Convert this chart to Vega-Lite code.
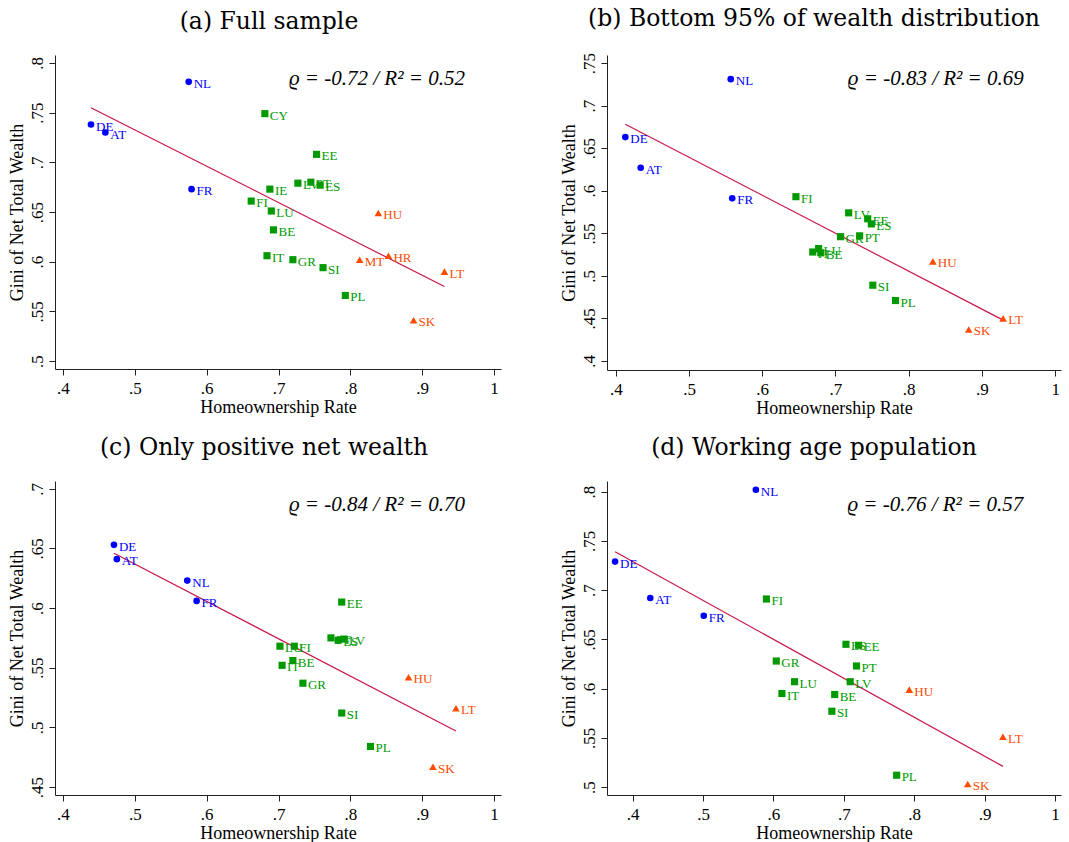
{
  "$schema": "https://vega.github.io/schema/vega-lite/v6.json",
  "background": "white",
  "padding": {"left": 7, "top": 6, "right": 5, "bottom": 5},
  "bounds": "flush",
  "columns": 2,
  "spacing": {"row": 111, "column": 106},
  "config": {
    "view": {"stroke": null},
    "font": "Liberation Serif",
    "axis": {"grid": false, "domainColor": "#222", "tickColor": "#222", "tickSize": 6, "labelFont": "Liberation Serif", "labelFontSize": 17, "labelColor": "#000", "titleFont": "Liberation Serif", "titleFontSize": 18, "titleFontWeight": "normal", "titleColor": "#000"},
    "axisY": {"labelAngle": -90, "labelAlign": "center", "labelBaseline": "alphabetic", "labelPadding": 7, "titlePadding": 2},
    "axisX": {"labelPadding": 5, "titlePadding": 2},
    "title": {"font": "DejaVu Serif", "fontSize": 23.5, "fontWeight": "normal", "color": "#000", "baseline": "alphabetic", "offset": 22},
    "text": {"font": "Liberation Serif"}
  },
  "datasets": {
    "pts": [
      {"panel": "a", "country": "NL", "hor": 0.575, "gini": 0.781, "group": "W"},
      {"panel": "a", "country": "DE", "hor": 0.439, "gini": 0.738, "group": "W"},
      {"panel": "a", "country": "AT", "hor": 0.459, "gini": 0.730, "group": "W"},
      {"panel": "a", "country": "FR", "hor": 0.579, "gini": 0.673, "group": "W"},
      {"panel": "a", "country": "CY", "hor": 0.681, "gini": 0.749, "group": "G"},
      {"panel": "a", "country": "EE", "hor": 0.753, "gini": 0.708, "group": "G"},
      {"panel": "a", "country": "LV", "hor": 0.727, "gini": 0.679, "group": "G"},
      {"panel": "a", "country": "PT", "hor": 0.745, "gini": 0.680, "group": "G"},
      {"panel": "a", "country": "ES", "hor": 0.758, "gini": 0.677, "group": "G"},
      {"panel": "a", "country": "IE", "hor": 0.688, "gini": 0.673, "group": "G"},
      {"panel": "a", "country": "FI", "hor": 0.662, "gini": 0.661, "group": "G"},
      {"panel": "a", "country": "LU", "hor": 0.690, "gini": 0.651, "group": "G"},
      {"panel": "a", "country": "BE", "hor": 0.693, "gini": 0.632, "group": "G"},
      {"panel": "a", "country": "IT", "hor": 0.684, "gini": 0.606, "group": "G"},
      {"panel": "a", "country": "GR", "hor": 0.720, "gini": 0.602, "group": "G"},
      {"panel": "a", "country": "SI", "hor": 0.762, "gini": 0.594, "group": "G"},
      {"panel": "a", "country": "PL", "hor": 0.793, "gini": 0.566, "group": "G"},
      {"panel": "a", "country": "HU", "hor": 0.839, "gini": 0.649, "group": "E"},
      {"panel": "a", "country": "MT", "hor": 0.813, "gini": 0.602, "group": "E"},
      {"panel": "a", "country": "HR", "hor": 0.853, "gini": 0.606, "group": "E"},
      {"panel": "a", "country": "LT", "hor": 0.931, "gini": 0.590, "group": "E"},
      {"panel": "a", "country": "SK", "hor": 0.888, "gini": 0.541, "group": "E"},

      {"panel": "b", "country": "NL", "hor": 0.557, "gini": 0.731, "group": "W"},
      {"panel": "b", "country": "DE", "hor": 0.413, "gini": 0.663, "group": "W"},
      {"panel": "b", "country": "AT", "hor": 0.434, "gini": 0.627, "group": "W"},
      {"panel": "b", "country": "FR", "hor": 0.559, "gini": 0.591, "group": "W"},
      {"panel": "b", "country": "FI", "hor": 0.646, "gini": 0.593, "group": "G"},
      {"panel": "b", "country": "LV", "hor": 0.718, "gini": 0.574, "group": "G"},
      {"panel": "b", "country": "EE", "hor": 0.744, "gini": 0.567, "group": "G"},
      {"panel": "b", "country": "ES", "hor": 0.749, "gini": 0.561, "group": "G"},
      {"panel": "b", "country": "PT", "hor": 0.733, "gini": 0.547, "group": "G"},
      {"panel": "b", "country": "GR", "hor": 0.707, "gini": 0.546, "group": "G"},
      {"panel": "b", "country": "IT", "hor": 0.669, "gini": 0.528, "group": "G"},
      {"panel": "b", "country": "LU", "hor": 0.677, "gini": 0.532, "group": "G"},
      {"panel": "b", "country": "BE", "hor": 0.680, "gini": 0.527, "group": "G"},
      {"panel": "b", "country": "SI", "hor": 0.751, "gini": 0.489, "group": "G"},
      {"panel": "b", "country": "PL", "hor": 0.782, "gini": 0.471, "group": "G"},
      {"panel": "b", "country": "HU", "hor": 0.833, "gini": 0.517, "group": "E"},
      {"panel": "b", "country": "LT", "hor": 0.929, "gini": 0.450, "group": "E"},
      {"panel": "b", "country": "SK", "hor": 0.882, "gini": 0.437, "group": "E"},

      {"panel": "c", "country": "DE", "hor": 0.471, "gini": 0.653, "group": "W"},
      {"panel": "c", "country": "AT", "hor": 0.475, "gini": 0.641, "group": "W"},
      {"panel": "c", "country": "NL", "hor": 0.573, "gini": 0.623, "group": "W"},
      {"panel": "c", "country": "FR", "hor": 0.586, "gini": 0.606, "group": "W"},
      {"panel": "c", "country": "EE", "hor": 0.788, "gini": 0.605, "group": "G"},
      {"panel": "c", "country": "PT", "hor": 0.773, "gini": 0.575, "group": "G"},
      {"panel": "c", "country": "ES", "hor": 0.783, "gini": 0.573, "group": "G"},
      {"panel": "c", "country": "LV", "hor": 0.791, "gini": 0.574, "group": "G"},
      {"panel": "c", "country": "LU", "hor": 0.702, "gini": 0.568, "group": "G"},
      {"panel": "c", "country": "FI", "hor": 0.722, "gini": 0.568, "group": "G"},
      {"panel": "c", "country": "BE", "hor": 0.720, "gini": 0.556, "group": "G"},
      {"panel": "c", "country": "IT", "hor": 0.705, "gini": 0.552, "group": "G"},
      {"panel": "c", "country": "GR", "hor": 0.734, "gini": 0.537, "group": "G"},
      {"panel": "c", "country": "SI", "hor": 0.788, "gini": 0.512, "group": "G"},
      {"panel": "c", "country": "PL", "hor": 0.828, "gini": 0.484, "group": "G"},
      {"panel": "c", "country": "HU", "hor": 0.881, "gini": 0.542, "group": "E"},
      {"panel": "c", "country": "LT", "hor": 0.947, "gini": 0.516, "group": "E"},
      {"panel": "c", "country": "SK", "hor": 0.915, "gini": 0.467, "group": "E"},

      {"panel": "d", "country": "NL", "hor": 0.575, "gini": 0.802, "group": "W"},
      {"panel": "d", "country": "DE", "hor": 0.375, "gini": 0.729, "group": "W"},
      {"panel": "d", "country": "AT", "hor": 0.425, "gini": 0.692, "group": "W"},
      {"panel": "d", "country": "FR", "hor": 0.501, "gini": 0.674, "group": "W"},
      {"panel": "d", "country": "FI", "hor": 0.590, "gini": 0.691, "group": "G"},
      {"panel": "d", "country": "ES", "hor": 0.703, "gini": 0.645, "group": "G"},
      {"panel": "d", "country": "EE", "hor": 0.721, "gini": 0.644, "group": "G"},
      {"panel": "d", "country": "PT", "hor": 0.718, "gini": 0.623, "group": "G"},
      {"panel": "d", "country": "GR", "hor": 0.604, "gini": 0.628, "group": "G"},
      {"panel": "d", "country": "LU", "hor": 0.630, "gini": 0.607, "group": "G"},
      {"panel": "d", "country": "LV", "hor": 0.709, "gini": 0.607, "group": "G"},
      {"panel": "d", "country": "IT", "hor": 0.612, "gini": 0.595, "group": "G"},
      {"panel": "d", "country": "BE", "hor": 0.687, "gini": 0.594, "group": "G"},
      {"panel": "d", "country": "SI", "hor": 0.683, "gini": 0.577, "group": "G"},
      {"panel": "d", "country": "PL", "hor": 0.775, "gini": 0.512, "group": "G"},
      {"panel": "d", "country": "HU", "hor": 0.793, "gini": 0.599, "group": "E"},
      {"panel": "d", "country": "LT", "hor": 0.926, "gini": 0.551, "group": "E"},
      {"panel": "d", "country": "SK", "hor": 0.876, "gini": 0.503, "group": "E"}
    ],
    "fit": [
      {"panel": "a", "hor": 0.439, "gini": 0.755},
      {"panel": "a", "hor": 0.931, "gini": 0.575},
      {"panel": "b", "hor": 0.413, "gini": 0.678},
      {"panel": "b", "hor": 0.929, "gini": 0.448},
      {"panel": "c", "hor": 0.471, "gini": 0.646},
      {"panel": "c", "hor": 0.947, "gini": 0.497},
      {"panel": "d", "hor": 0.375, "gini": 0.739},
      {"panel": "d", "hor": 0.926, "gini": 0.521}
    ]
  },
  "concat": [
    {
      "title": {"text": "(a) Full sample", "dx": -9},
      "width": 446, "height": 314,
      "layer": [
        {"data": {"name": "fit"}, "transform": [{"filter": "datum.panel == 'a'"}], "mark": {"type": "line", "color": "#c8174a", "strokeWidth": 1.2},
         "encoding": {
           "x": {"field": "hor", "type": "quantitative", "title": "Homeownership Rate", "scale": {"domain": [0.3889, 1.0097], "nice": false, "zero": false},
                 "axis": {"values": [0.4, 0.5, 0.6, 0.7, 0.8, 0.9, 1], "labelExpr": "replace(format(datum.value, '.2~f'), '0.', '.')"}},
           "y": {"field": "gini", "type": "quantitative", "title": "Gini of Net Total Wealth", "scale": {"domain": [0.492, 0.808], "nice": false, "zero": false},
                 "axis": {"values": [0.5, 0.55, 0.6, 0.65, 0.7, 0.75, 0.8], "labelExpr": "replace(format(datum.value, '.2~f'), '0.', '.')"}}
         }},
        {"data": {"name": "pts"}, "transform": [{"filter": "datum.panel == 'a'"}], "mark": {"type": "point", "filled": true, "opacity": 1},
         "encoding": {
           "x": {"field": "hor", "type": "quantitative", "title": "Homeownership Rate"},
           "y": {"field": "gini", "type": "quantitative", "title": "Gini of Net Total Wealth"},
           "shape": {"field": "group", "type": "nominal", "scale": {"domain": ["W", "G", "E"], "range": ["circle", "square", "triangle-up"]}, "legend": null},
           "color": {"field": "group", "type": "nominal", "scale": {"domain": ["W", "G", "E"], "range": ["#0000ff", "#009a00", "#ff4a00"]}, "legend": null},
           "size": {"field": "group", "type": "nominal", "scale": {"domain": ["W", "G", "E"], "range": [44, 58, 78]}, "legend": null}
         }},
        {"data": {"name": "pts"}, "transform": [{"filter": "datum.panel == 'a'"}], "mark": {"type": "text", "align": "left", "baseline": "middle", "dx": 5, "dy": 2, "fontSize": 13, "font": "Liberation Serif"},
         "encoding": {
           "x": {"field": "hor", "type": "quantitative", "title": "Homeownership Rate"},
           "y": {"field": "gini", "type": "quantitative", "title": "Gini of Net Total Wealth"},
           "text": {"field": "country"}, "color": {"field": "group", "type": "nominal", "legend": null}}},
        {"data": {"values": [{"note": "ϱ = -0.72 / R² = 0.52"}]}, "mark": {"type": "text", "font": "Liberation Serif", "fontStyle": "italic", "fontSize": 21, "align": "center", "baseline": "alphabetic", "color": "#000"},
         "encoding": {"x": {"datum": 0.837, "type": "quantitative", "title": "Homeownership Rate"}, "y": {"datum": 0.778, "type": "quantitative", "title": "Gini of Net Total Wealth"}, "text": {"field": "note"}}}
      ]
    },
    {
      "title": {"text": "(b) Bottom 95% of wealth distribution", "dx": -20},
      "width": 454, "height": 315,
      "layer": [
        {"data": {"name": "fit"}, "transform": [{"filter": "datum.panel == 'b'"}], "mark": {"type": "line", "color": "#c8174a", "strokeWidth": 1.2},
         "encoding": {
           "x": {"field": "hor", "type": "quantitative", "title": "Homeownership Rate", "scale": {"domain": [0.388, 1.008], "nice": false, "zero": false},
                 "axis": {"values": [0.4, 0.5, 0.6, 0.7, 0.8, 0.9, 1], "labelExpr": "replace(format(datum.value, '.2~f'), '0.', '.')"}},
           "y": {"field": "gini", "type": "quantitative", "title": "Gini of Net Total Wealth", "scale": {"domain": [0.3894, 0.7594], "nice": false, "zero": false},
                 "axis": {"values": [0.4, 0.45, 0.5, 0.55, 0.6, 0.65, 0.7, 0.75], "labelExpr": "replace(format(datum.value, '.2~f'), '0.', '.')"}}
         }},
        {"data": {"name": "pts"}, "transform": [{"filter": "datum.panel == 'b'"}], "mark": {"type": "point", "filled": true, "opacity": 1},
         "encoding": {
           "x": {"field": "hor", "type": "quantitative", "title": "Homeownership Rate"},
           "y": {"field": "gini", "type": "quantitative", "title": "Gini of Net Total Wealth"},
           "shape": {"field": "group", "type": "nominal", "scale": {"domain": ["W", "G", "E"], "range": ["circle", "square", "triangle-up"]}, "legend": null},
           "color": {"field": "group", "type": "nominal", "scale": {"domain": ["W", "G", "E"], "range": ["#0000ff", "#009a00", "#ff4a00"]}, "legend": null},
           "size": {"field": "group", "type": "nominal", "scale": {"domain": ["W", "G", "E"], "range": [44, 58, 78]}, "legend": null}
         }},
        {"data": {"name": "pts"}, "transform": [{"filter": "datum.panel == 'b'"}], "mark": {"type": "text", "align": "left", "baseline": "middle", "dx": 5, "dy": 2, "fontSize": 13, "font": "Liberation Serif"},
         "encoding": {
           "x": {"field": "hor", "type": "quantitative", "title": "Homeownership Rate"},
           "y": {"field": "gini", "type": "quantitative", "title": "Gini of Net Total Wealth"},
           "text": {"field": "country"}, "color": {"field": "group", "type": "nominal", "legend": null}}},
        {"data": {"values": [{"note": "ϱ = -0.83 / R² = 0.69"}]}, "mark": {"type": "text", "font": "Liberation Serif", "fontStyle": "italic", "fontSize": 21, "align": "center", "baseline": "alphabetic", "color": "#000"},
         "encoding": {"x": {"datum": 0.837, "type": "quantitative", "title": "Homeownership Rate"}, "y": {"datum": 0.724, "type": "quantitative", "title": "Gini of Net Total Wealth"}, "text": {"field": "note"}}}
      ]
    },
    {
      "title": {"text": "(c) Only positive net wealth", "dx": -14},
      "width": 446, "height": 314,
      "layer": [
        {"data": {"name": "fit"}, "transform": [{"filter": "datum.panel == 'c'"}], "mark": {"type": "line", "color": "#c8174a", "strokeWidth": 1.2},
         "encoding": {
           "x": {"field": "hor", "type": "quantitative", "title": "Homeownership Rate", "scale": {"domain": [0.3889, 1.0097], "nice": false, "zero": false},
                 "axis": {"values": [0.4, 0.5, 0.6, 0.7, 0.8, 0.9, 1], "labelExpr": "replace(format(datum.value, '.2~f'), '0.', '.')"}},
           "y": {"field": "gini", "type": "quantitative", "title": "Gini of Net Total Wealth", "scale": {"domain": [0.4433, 0.7065], "nice": false, "zero": false},
                 "axis": {"values": [0.45, 0.5, 0.55, 0.6, 0.65, 0.7], "labelExpr": "replace(format(datum.value, '.2~f'), '0.', '.')"}}
         }},
        {"data": {"name": "pts"}, "transform": [{"filter": "datum.panel == 'c'"}], "mark": {"type": "point", "filled": true, "opacity": 1},
         "encoding": {
           "x": {"field": "hor", "type": "quantitative", "title": "Homeownership Rate"},
           "y": {"field": "gini", "type": "quantitative", "title": "Gini of Net Total Wealth"},
           "shape": {"field": "group", "type": "nominal", "scale": {"domain": ["W", "G", "E"], "range": ["circle", "square", "triangle-up"]}, "legend": null},
           "color": {"field": "group", "type": "nominal", "scale": {"domain": ["W", "G", "E"], "range": ["#0000ff", "#009a00", "#ff4a00"]}, "legend": null},
           "size": {"field": "group", "type": "nominal", "scale": {"domain": ["W", "G", "E"], "range": [44, 58, 78]}, "legend": null}
         }},
        {"data": {"name": "pts"}, "transform": [{"filter": "datum.panel == 'c'"}], "mark": {"type": "text", "align": "left", "baseline": "middle", "dx": 5, "dy": 2, "fontSize": 13, "font": "Liberation Serif"},
         "encoding": {
           "x": {"field": "hor", "type": "quantitative", "title": "Homeownership Rate"},
           "y": {"field": "gini", "type": "quantitative", "title": "Gini of Net Total Wealth"},
           "text": {"field": "country"}, "color": {"field": "group", "type": "nominal", "legend": null}}},
        {"data": {"values": [{"note": "ϱ = -0.84 / R² = 0.70"}]}, "mark": {"type": "text", "font": "Liberation Serif", "fontStyle": "italic", "fontSize": 21, "align": "center", "baseline": "alphabetic", "color": "#000"},
         "encoding": {"x": {"datum": 0.837, "type": "quantitative", "title": "Homeownership Rate"}, "y": {"datum": 0.681, "type": "quantitative", "title": "Gini of Net Total Wealth"}, "text": {"field": "note"}}}
      ]
    },
    {
      "title": {"text": "(d) Working age population", "dx": -20},
      "width": 454, "height": 314,
      "layer": [
        {"data": {"name": "fit"}, "transform": [{"filter": "datum.panel == 'd'"}], "mark": {"type": "line", "color": "#c8174a", "strokeWidth": 1.2},
         "encoding": {
           "x": {"field": "hor", "type": "quantitative", "title": "Homeownership Rate", "scale": {"domain": [0.3635, 1.0085], "nice": false, "zero": false},
                 "axis": {"values": [0.4, 0.5, 0.6, 0.7, 0.8, 0.9, 1], "labelExpr": "replace(format(datum.value, '.2~f'), '0.', '.')"}},
           "y": {"field": "gini", "type": "quantitative", "title": "Gini of Net Total Wealth", "scale": {"domain": [0.4919, 0.8109], "nice": false, "zero": false},
                 "axis": {"values": [0.5, 0.55, 0.6, 0.65, 0.7, 0.75, 0.8], "labelExpr": "replace(format(datum.value, '.2~f'), '0.', '.')"}}
         }},
        {"data": {"name": "pts"}, "transform": [{"filter": "datum.panel == 'd'"}], "mark": {"type": "point", "filled": true, "opacity": 1},
         "encoding": {
           "x": {"field": "hor", "type": "quantitative", "title": "Homeownership Rate"},
           "y": {"field": "gini", "type": "quantitative", "title": "Gini of Net Total Wealth"},
           "shape": {"field": "group", "type": "nominal", "scale": {"domain": ["W", "G", "E"], "range": ["circle", "square", "triangle-up"]}, "legend": null},
           "color": {"field": "group", "type": "nominal", "scale": {"domain": ["W", "G", "E"], "range": ["#0000ff", "#009a00", "#ff4a00"]}, "legend": null},
           "size": {"field": "group", "type": "nominal", "scale": {"domain": ["W", "G", "E"], "range": [44, 58, 78]}, "legend": null}
         }},
        {"data": {"name": "pts"}, "transform": [{"filter": "datum.panel == 'd'"}], "mark": {"type": "text", "align": "left", "baseline": "middle", "dx": 5, "dy": 2, "fontSize": 13, "font": "Liberation Serif"},
         "encoding": {
           "x": {"field": "hor", "type": "quantitative", "title": "Homeownership Rate"},
           "y": {"field": "gini", "type": "quantitative", "title": "Gini of Net Total Wealth"},
           "text": {"field": "country"}, "color": {"field": "group", "type": "nominal", "legend": null}}},
        {"data": {"values": [{"note": "ϱ = -0.76 / R² = 0.57"}]}, "mark": {"type": "text", "font": "Liberation Serif", "fontStyle": "italic", "fontSize": 21, "align": "center", "baseline": "alphabetic", "color": "#000"},
         "encoding": {"x": {"datum": 0.830, "type": "quantitative", "title": "Homeownership Rate"}, "y": {"datum": 0.780, "type": "quantitative", "title": "Gini of Net Total Wealth"}, "text": {"field": "note"}}}
      ]
    }
  ]
}
